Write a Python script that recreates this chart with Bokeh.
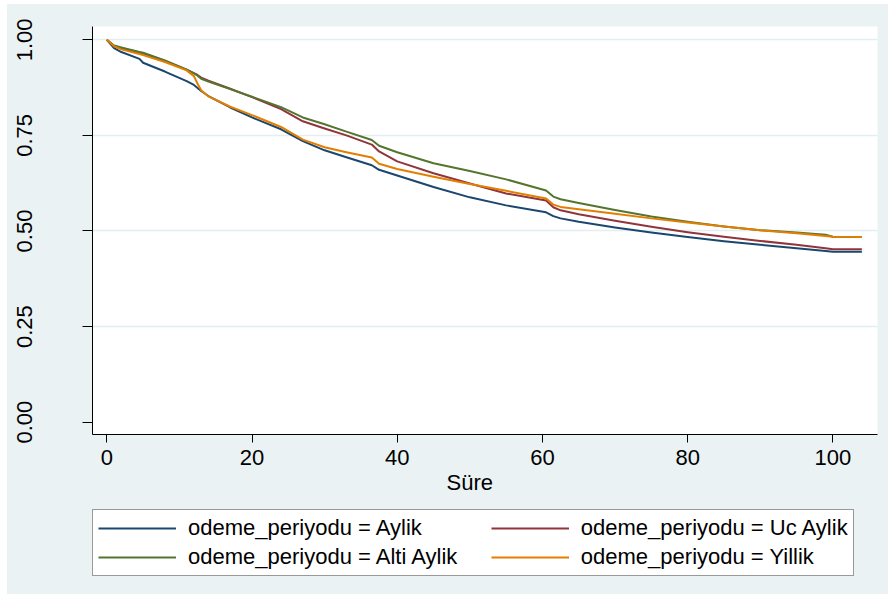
from bokeh.plotting import figure
from bokeh.models import Legend, LegendItem, FixedTicker, Title, Spacer
from bokeh.layouts import column, row
from bokeh.embed import file_html
from bokeh.resources import INLINE

# ---- data ----
time = [0, 1, 2, 4.5, 5, 8, 11, 12, 12.5, 13, 14, 17, 20, 24, 27, 30, 33, 36.5, 37.5,
        40, 45, 50, 55, 60.5, 61.5, 62.5, 65, 70, 75, 80, 85, 90, 95, 99, 100, 104]
aylik = [1.000, 0.978, 0.968, 0.950, 0.940, 0.917, 0.892, 0.882, 0.874, 0.866, 0.853,
         0.823, 0.797, 0.766, 0.735, 0.711, 0.693, 0.672, 0.660, 0.645, 0.615, 0.588,
         0.567, 0.549, 0.539, 0.533, 0.524, 0.509, 0.496, 0.484, 0.473, 0.464, 0.455,
         0.448, 0.446, 0.446]
uc_aylik = [1.000, 0.984, 0.978, 0.967, 0.965, 0.945, 0.922, 0.913, 0.908, 0.901, 0.893,
            0.872, 0.850, 0.819, 0.787, 0.768, 0.750, 0.726, 0.708, 0.682, 0.651, 0.624,
            0.598, 0.580, 0.562, 0.554, 0.544, 0.527, 0.511, 0.497, 0.485, 0.474, 0.464,
            0.455, 0.452, 0.452]
alti_aylik = [1.000, 0.985, 0.980, 0.968, 0.966, 0.946, 0.922, 0.912, 0.906, 0.898, 0.891,
              0.871, 0.851, 0.824, 0.797, 0.779, 0.760, 0.738, 0.723, 0.706, 0.677, 0.657,
              0.635, 0.606, 0.590, 0.583, 0.573, 0.555, 0.538, 0.524, 0.512, 0.502, 0.496,
              0.490, 0.485, 0.484]
yillik = [1.000, 0.983, 0.975, 0.963, 0.960, 0.942, 0.920, 0.905, 0.885, 0.868, 0.852,
          0.825, 0.803, 0.772, 0.739, 0.719, 0.706, 0.692, 0.676, 0.662, 0.642, 0.623,
          0.605, 0.585, 0.569, 0.563, 0.557, 0.545, 0.533, 0.522, 0.512, 0.502, 0.494,
          0.487, 0.485, 0.484]

series_labels = ["odeme_periyodu = Aylik", "odeme_periyodu = Uc Aylik",
                 "odeme_periyodu = Alti Aylik", "odeme_periyodu = Yillik"]
series_colors = ["#1A476F", "#90353B", "#55752F", "#E37E00"]
x_ticks = [0, 20, 40, 60, 80, 100]
y_ticks = [0.0, 0.25, 0.5, 0.75, 1.0]
y_tick_labels = ["0.00", "0.25", "0.50", "0.75", "1.00"]
x_title = "Süre"

FONT = "Liberation Sans"
BG = "#EAF2F3"
series = [aylik, uc_aylik, alti_aylik, yillik]

# ---------------- main plot ----------------
p = figure(width=881, height=500, output_backend="svg", toolbar_location=None,
           x_range=(-1.97, 106.15), y_range=(-0.0322, 1.0348),
           min_border_left=85, min_border_right=11, min_border_top=22,
           min_border_bottom=70)
p.border_fill_color = BG
p.background_fill_color = "white"
p.outline_line_color = None

for vals, col in zip(series, series_colors):
    p.line(time, vals, line_color=col, line_width=2, line_join="round")

for ax in (p.xaxis, p.yaxis):
    ax.axis_line_color = "#000000"
    ax.axis_line_width = 1
    ax.major_tick_line_color = "#000000"
    ax.major_tick_in = 0
    ax.minor_tick_line_color = None
    ax.major_label_text_font = FONT
    ax.major_label_text_font_size = "22px"
    ax.major_label_text_color = "#000000"

p.xaxis.ticker = FixedTicker(ticks=x_ticks)
p.xaxis.major_tick_out = 8
p.xaxis.major_label_standoff = 7

p.yaxis.ticker = FixedTicker(ticks=y_ticks)
p.yaxis.major_label_overrides = {t: s for t, s in zip(y_ticks, y_tick_labels)}
p.yaxis.major_label_orientation = "vertical"
p.yaxis.major_tick_out = 10
p.yaxis.major_label_standoff = 50

p.xgrid.visible = False
p.ygrid.ticker = FixedTicker(ticks=[t for t in y_ticks if t > 0])
p.ygrid.grid_line_color = "#E4EEF0"
p.ygrid.grid_line_width = 1.5

title = Title(text=x_title, align="left", offset=354, standoff=0,
              text_font=FONT, text_font_size="22px", text_font_style="normal",
              text_color="#000000")
p.add_layout(title, "below")

# ---------------- legend strip ----------------
lg = figure(width=881, height=90, output_backend="svg", toolbar_location=None,
            x_axis_type=None, y_axis_type=None, min_border=0,
            x_range=(1000, 1001), y_range=(1000, 1001))
lg.border_fill_color = BG
lg.background_fill_color = None
lg.outline_line_color = None
lg.grid.visible = False

# legend key samples: a single point of each series (no visible segment)
key_renderers = [lg.line(x=[time[0]], y=[vals[0]], line_color=col, line_width=2)
                 for vals, col in zip(series, series_colors)]

labels = list(series_labels)
labels[2] = labels[2] + "\u00a0" * 5
items = [LegendItem(label=lab, renderers=[r]) for lab, r in zip(labels, key_renderers)]
legend = Legend(items=items, orientation="horizontal", ncols=2,
                location=(0, 18), glyph_width=78, glyph_height=20,
                label_standoff=12, spacing=3, padding=5, margin=0,
                label_text_font=FONT, label_text_font_size="22px",
                label_text_color="#000000",
                border_line_color="#333333", border_line_width=1,
                background_fill_color="white", background_fill_alpha=1.0)
lg.add_layout(legend)

inner = column(p, lg, styles={"background-color": BG})
layout = column(Spacer(width=888, height=4),
                row(Spacer(width=7, height=590), inner))

open("out.html", "w").write(file_html(layout, INLINE))
